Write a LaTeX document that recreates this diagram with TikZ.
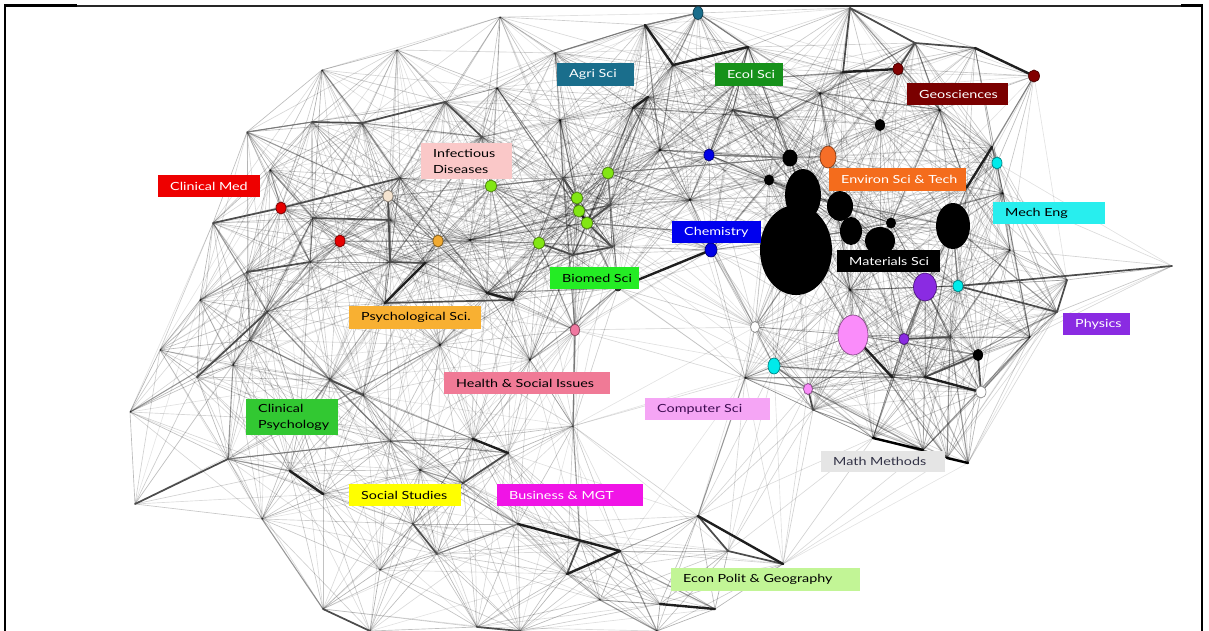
\documentclass[tikz,border=0pt]{standalone}
\usepackage{fontspec}
\newfontfamily\labfont[FakeStretch=1.28]{Lato}
\usetikzlibrary{shapes.geometric}

% field label fills
\definecolor{cClin}{RGB}{238,0,0}
\definecolor{cAgri}{RGB}{26,110,140}
\definecolor{cEcol}{RGB}{22,145,26}
\definecolor{cGeo}{RGB}{122,0,0}
\definecolor{cInf}{RGB}{250,200,200}
\definecolor{cEnv}{RGB}{244,108,28}
\definecolor{cMech}{RGB}{40,238,238}
\definecolor{cChem}{RGB}{0,0,238}
\definecolor{cBio}{RGB}{36,236,36}
\definecolor{cPsy}{RGB}{248,176,50}
\definecolor{cPhys}{RGB}{138,43,226}
\definecolor{cHealth}{RGB}{240,122,150}
\definecolor{cComp}{RGB}{245,165,245}
\definecolor{cCPsy}{RGB}{50,200,50}
\definecolor{cMath}{RGB}{229,229,229}
\definecolor{cSoc}{RGB}{255,255,0}
\definecolor{cBus}{RGB}{240,20,230}
\definecolor{cEcon}{RGB}{194,245,150}
\definecolor{tComp}{RGB}{60,10,80}
\definecolor{tMath}{RGB}{50,50,70}
% node fills
\definecolor{nLime}{RGB}{130,230,20}
\definecolor{nBeige}{RGB}{245,228,208}
\definecolor{nOrange}{RGB}{240,170,50}
\definecolor{nPink}{RGB}{240,120,160}
\definecolor{nViolet}{RGB}{250,140,250}
\definecolor{nCyan}{RGB}{0,235,235}
\definecolor{nMaroon}{RGB}{130,0,0}
\definecolor{nRed}{RGB}{230,0,0}
\definecolor{nEnv}{RGB}{245,110,40}
\definecolor{nBlue}{RGB}{0,0,230}
\definecolor{nDark}{RGB}{50,50,50}

\newdimen\webax \newdimen\webay \newdimen\webbx \newdimen\webby

\begin{document}
\begin{tikzpicture}[x=1pt,y=-1pt,
  web/.style={line width=0.65pt, draw=black},
  mid/.style={line width=1.1pt, draw=black!52, line cap=round},
  bone/.style={line width=1.7pt, draw=black!70, line cap=round},
  heavy/.style={line width=2.4pt, draw=black!88, line cap=round},
  dot/.style={ellipse, fill=#1, draw=#1!55!black, line width=0.7pt, inner sep=0pt},
  blob/.style={ellipse, fill=black, inner sep=0pt},
  lab/.style={anchor=north west, inner xsep=12pt, inner ysep=0pt,
    minimum height=22pt, align=left,
    font=\labfont\fontsize{11.2}{15.5}\selectfont},
]
\useasboundingbox (0,0) rectangle (1209,631);

% frame
\draw[line width=2.5pt] (5,631) -- (5,5.5) -- (77,5.5);
\draw[line width=1.1pt, black!85] (77,6) -- (1181,6);
\draw[line width=2.5pt] (1181,5.5) -- (1202,5.5) -- (1202,631);

% network vertices
\foreach \n/\px/\py in {
  1/698/13, 2/500/17, 3/645/25, 4/555/53, 5/748/47, 6/850/8, 7/843/72,
  8/915/43, 9/898/69, 10/975/48, 11/1034/76, 12/322/70, 13/397/50,
  14/247/132, 15/312/122, 16/362/123, 17/445/102, 18/482/137, 19/880/125,
  20/828/157, 21/997/163, 22/1003/193, 23/790/158, 24/769/180, 25/709/155,
  26/608/173, 27/491/186, 28/577/198, 29/579/211, 30/587/223, 31/539/243,
  32/388/196, 33/281/208, 34/340/241, 35/438/241, 36/213/223, 37/247/272,
  38/267/312, 39/160/350, 40/197/377, 41/250/340, 42/233/365, 43/130/412,
  44/330/380, 45/135/504, 46/228/459, 47/262/519, 48/290/471, 49/323/494,
  50/390/441, 51/323/609, 52/711/250, 53/575/330, 54/755/327, 55/774/366,
  56/808/389, 57/853/335, 58/904/339, 59/925/287, 60/958/286, 61/978/355,
  62/981/392, 63/1172/266, 64/1067/280, 65/1057/312, 66/1030/337,
  67/873/438, 68/923/450, 69/968/463, 70/508/453, 71/518/524, 72/437/554,
  73/580/541, 74/620/551, 75/567/574, 76/698/516, 77/728/551, 78/783/564,
  79/715/609, 80/660/604, 81/795/240, 82/840/206, 83/851/231, 84/880/241,
  85/953/226, 86/891/223, 87/497/88, 88/633/108, 89/563/178, 90/610/205,
  91/612/247, 92/573/255, 93/313/218, 94/390/262, 95/385/303, 96/487/293,
  97/513/300, 98/618/288, 99/573/426, 100/477/627, 101/520/631,
  102/657/631, 103/992/147, 104/967/187, 105/925/377, 106/892/377,
  107/950/337, 108/745/378, 109/813/410, 110/473/439, 111/463/483,
  112/413/524, 113/673/65, 114/777/118, 115/733/110, 116/820/93,
  117/425/263, 118/400/178, 119/310/262, 120/648/97, 121/947/458,
  122/370/631, 123/363/395, 124/440/345, 125/803/195, 126/390/220,
  127/560/120, 128/690/200, 129/660/150, 130/470/240, 131/200/300,
  132/300/420, 133/420/470, 134/530/360, 135/380/570, 136/600/600,
  137/740/80, 138/940/110, 139/270/170, 140/850/290, 141/1010/250}
  \coordinate (v\n) at (\px,\py);

% links between nearby vertices: faint everywhere, some of them stronger
\foreach \i in {1,...,140}{
  \pgfextractx{\webax}{\pgfpointanchor{v\i}{center}}
  \pgfextracty{\webay}{\pgfpointanchor{v\i}{center}}
  \pgfmathtruncatemacro\jstart{\i+1}
  \foreach \j in {\jstart,...,141}{
    \pgfextractx{\webbx}{\pgfpointanchor{v\j}{center}}
    \pgfextracty{\webby}{\pgfpointanchor{v\j}{center}}
    \pgfmathsetmacro\dd{veclen(\webbx-\webax,\webby-\webay)}
    \ifdim\dd pt<215pt
      \pgfmathsetmacro\op{0.10+0.30*(1-\dd/215)}
      \pgfmathtruncatemacro\hh{mod(\i*7+\j*11,10)}
      \ifnum\hh=0
        \ifdim\dd pt<160pt
          \draw[line width=1.1pt, draw=black, draw opacity=0.40] (v\i) -- (v\j);
        \else
          \draw[web, draw opacity=\op] (v\i) -- (v\j);
        \fi
      \else
        \draw[web, draw opacity=\op] (v\i) -- (v\j);
      \fi
    \fi
  }
}

% stronger links
\foreach \a/\b in {3/1, 3/4, 1/5, 25/23, 46/50, 72/71, 73/74, 55/56, 90/26,
  27/89, 58/59, 60/85, 14/15, 30/81, 26/23, 18/27, 44/50, 38/41, 99/53}
  \draw[mid] (v\a) -- (v\b);
\foreach \a/\b in {115/114, 6/8, 6/7, 9/8, 8/10, 60/63, 60/65, 65/64,
  58/107, 61/62, 61/105, 15/16, 16/17, 17/18, 36/33, 33/118, 37/119,
  93/126, 32/94, 94/117, 95/97, 40/38, 45/46, 51/122, 44/123, 70/111,
  112/72, 75/73, 76/77, 77/78, 100/101, 56/109, 89/28, 28/29, 30/90,
  31/92, 92/91, 91/30}
  \draw[bone] (v\a) -- (v\b);
\foreach \a/\b in {113/5, 3/113, 88/120, 7/9, 10/11, 103/104, 105/62,
  57/106, 98/52, 95/117, 96/97, 48/49, 110/70, 71/74, 75/74, 76/78,
  80/79, 29/30}
  \draw[heavy] (v\a) -- (v\b);
\draw[heavy, draw=black] (v67) -- (v68);
\draw[heavy, draw=black] (v121) -- (v69);

% Materials cluster
\node[blob, minimum width=36pt, minimum height=52pt] (mA) at (v125) {};
\node[blob, minimum width=72pt, minimum height=90pt] (mB) at (796,250) {};
\node[blob, minimum width=26pt, minimum height=30pt] (mC) at (v82) {};
\node[blob, minimum width=22pt, minimum height=28pt] (mD) at (v83) {};
\node[blob, minimum width=30pt, minimum height=28pt] (mE) at (v84) {};
\node[blob, minimum width=10pt, minimum height=11pt] (mF) at (v86) {};
\node[blob, minimum width=34pt, minimum height=46pt] (mG) at (v85) {};
\node[blob, minimum width=15pt, minimum height=17pt] (mH) at (v23) {};
\node[blob, minimum width=10pt, minimum height=11pt] (mI) at (v24) {};
\node[blob, minimum width=10pt, minimum height=12pt] (mJ) at (v19) {};
\node[blob, minimum width=10pt, minimum height=12pt] (mK) at (v61) {};

% field nodes
\node[dot=cAgri, minimum width=10pt, minimum height=13pt] (nAgri) at (v1) {};
\node[dot=nMaroon, minimum width=10pt, minimum height=12pt] (nGeoA) at (v9) {};
\node[dot=nMaroon, minimum width=11pt, minimum height=12pt] (nGeoB) at (v11) {};
\node[dot=nBlue, minimum width=10pt, minimum height=12pt] (nBlueA) at (v25) {};
\node[dot=nEnv, minimum width=16pt, minimum height=22pt] (nEnv) at (v20) {};
\node[dot=nCyan, minimum width=10pt, minimum height=12pt] (nMechA) at (v21) {};
\node[dot=cPhys, minimum width=23pt, minimum height=28pt] (nPhysA) at (v59) {};
\node[dot=nCyan, minimum width=10pt, minimum height=12pt] (nMechB) at (v60) {};
\node[dot=nViolet, minimum width=30pt, minimum height=40pt] (nCompA) at (v57) {};
\node[dot=cPhys, minimum width=10pt, minimum height=11pt] (nPhysB) at (v58) {};
\node[dot=white, minimum width=10pt, minimum height=12pt] (nMathA) at (v62) {};
\node[dot=nViolet, minimum width=9pt, minimum height=11pt] (nCompB) at (v56) {};
\node[dot=nCyan, minimum width=12pt, minimum height=16pt] (nMechC) at (v55) {};
\node[dot=white, minimum width=9pt, minimum height=11pt] (nMathB) at (v54) {};
\node[dot=nPink, minimum width=9pt, minimum height=12pt] (nHealth) at (v53) {};
\node[dot=nBlue, minimum width=12pt, minimum height=14pt] (nChem) at (v52) {};
\node[dot=nLime, minimum width=11pt, minimum height=12pt] (nBioA) at (v26) {};
\node[dot=nLime, minimum width=11pt, minimum height=12pt] (nBioB) at (v27) {};
\node[dot=nLime, minimum width=11pt, minimum height=12pt] (nBioC) at (v28) {};
\node[dot=nLime, minimum width=11pt, minimum height=12pt] (nBioD) at (v29) {};
\node[dot=nLime, minimum width=11pt, minimum height=12pt] (nBioE) at (v30) {};
\node[dot=nLime, minimum width=11pt, minimum height=12pt] (nBioF) at (v31) {};
\node[dot=nBeige, minimum width=10pt, minimum height=12pt] (nInf) at (v32) {};
\node[dot=nRed, minimum width=10pt, minimum height=12pt] (nClinA) at (v33) {};
\node[dot=nRed, minimum width=10pt, minimum height=12pt] (nClinB) at (v34) {};
\node[dot=nOrange, minimum width=10pt, minimum height=12pt] (nPsy) at (v35) {};
\node[dot=nDark, minimum width=6pt, minimum height=6pt] (nBioG) at (v98) {};

% field labels (text set flush left inside a box of fixed width)
\node[lab, fill=cClin, text=white] (lClin) at (158,175) {\makebox[78pt][l]{Clinical Med}};
\node[lab, fill=cAgri, text=white, minimum height=23pt] (lAgri) at (557,63) {\makebox[53pt][l]{Agri Sci}};
\node[lab, fill=cEcol, text=white, minimum height=23pt] (lEcol) at (715,63) {\makebox[44pt][l]{Ecol Sci}};
\node[lab, fill=cGeo, text=white] (lGeo) at (907,83) {\makebox[77pt][l]{Geosciences}};
\node[lab, fill=cInf, text=black, text width=67pt, minimum height=36pt] (lInf) at (421,143) {Infectious\\Diseases};
\node[lab, fill=cEnv, text=white, minimum height=23pt] (lEnv) at (829,168) {\makebox[113pt][l]{Environ Sci \& Tech}};
\node[lab, fill=cMech, text=black] (lMech) at (993,202) {\makebox[88pt][l]{Mech Eng}};
\node[lab, fill=cChem, text=white] (lChem) at (672,221) {\makebox[65pt][l]{Chemistry}};
\node[lab, fill=black, text=white] (lMat) at (837,250) {\makebox[79pt][l]{Materials Sci}};
\node[lab, fill=cBio, text=black] (lBio) at (550,267) {\makebox[65pt][l]{Biomed Sci}};
\node[lab, fill=cPsy, text=black, minimum height=23pt] (lPsy) at (349,306) {\makebox[108pt][l]{Psychological Sci.}};
\node[lab, fill=cPhys, text=white] (lPhys) at (1063,313) {\makebox[43pt][l]{Physics}};
\node[lab, fill=cHealth, text=black] (lHealth) at (444,372) {\makebox[142pt][l]{Health \& Social Issues}};
\node[lab, fill=cComp, text=tComp] (lComp) at (645,398) {\makebox[101pt][l]{Computer Sci}};
\node[lab, fill=cCPsy, text=black, text width=68pt, minimum height=36pt] (lCPsy) at (246,399) {Clinical\\Psychology};
\node[lab, fill=cMath, text=tMath, minimum height=21pt] (lMath) at (821,451) {\makebox[100pt][l]{Math Methods}};
\node[lab, fill=cSoc, text=black] (lSoc) at (349,484) {\makebox[88pt][l]{Social Studies}};
\node[lab, fill=cBus, text=white] (lBus) at (497,484) {\makebox[122pt][l]{Business \& MGT}};
\node[lab, fill=cEcon, text=black, minimum height=23pt] (lEcon) at (671,568) {\makebox[165pt][l]{Econ Polit \& Geography}};
\end{tikzpicture}
\end{document}
